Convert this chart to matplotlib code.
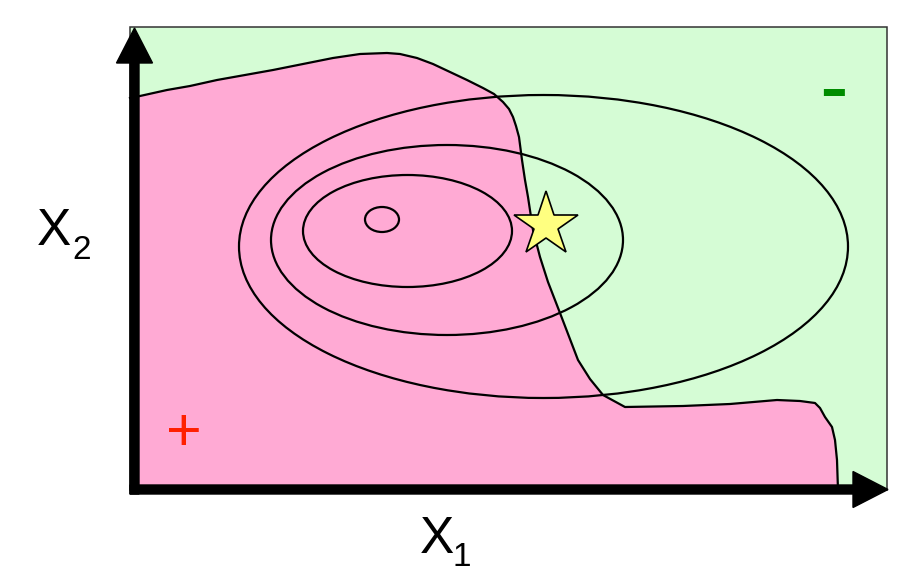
import matplotlib
matplotlib.use("Agg")
import matplotlib.pyplot as plt
from matplotlib.patches import Ellipse, Rectangle, Polygon, FancyArrow

# ---- data (data units: x = X1, y = X2) ----
box_w, box_h = 757, 463

# decision boundary (pink "+" region lies to the lower-left)
boundary_x = [0, 10, 37, 60, 87, 115, 143, 173, 203, 230, 257, 270, 287, 303, 320,
              337, 353, 364, 373, 379, 383, 386, 389, 392,
              395, 398, 403, 410, 418, 430, 448, 460, 473, 495, 553, 600, 647, 670,
              685, 690, 695, 702, 705, 707, 708]
boundary_y = [392, 394, 400, 404, 410, 415, 420, 426, 432, 436, 437, 436, 432, 426, 418,
              410, 402, 396, 388, 381, 373, 364, 353, 330,
              310, 293, 260, 233, 208, 177, 130, 111, 95, 83, 84, 86, 90, 89,
              87, 82, 73, 63, 50, 30, 0]

# contour ellipses: centre x, centre y, width, height
ell_cx = [252, 277.5, 317, 413.5]
ell_cy = [270.5, 259, 250, 243.5]
ell_w = [34, 209, 352, 609]
ell_h = [25, 112, 190, 303]

star_x, star_y = 416, 265.3

pink = "#ffaad4"
green = "#d5fcd5"

fig = plt.figure(figsize=(9.03, 5.77), dpi=100)
ax = fig.add_axes([0, 0, 1, 1])
ax.set_xlim(-130, 773)
ax.set_ylim(-87, 490)
ax.axis("off")

# background box
ax.add_patch(Rectangle((0, 0), box_w, box_h, facecolor=green, edgecolor="#333333",
                       lw=1.1, zorder=1))

# pink region
poly_pts = list(zip(boundary_x, boundary_y)) + [(0, 0)]
ax.add_patch(Polygon(poly_pts, closed=True, facecolor=pink, edgecolor="none", zorder=2))
ax.plot(boundary_x, boundary_y, color="black", lw=1.6, zorder=3,
        solid_joinstyle="round")

# ellipses
for cx, cy, w, h in zip(ell_cx, ell_cy, ell_w, ell_h):
    ax.add_patch(Ellipse((cx, cy), w, h, facecolor="none", edgecolor="black",
                         lw=1.6, zorder=4))

# star
ax.plot([star_x], [star_y], marker="*", markersize=48.5, markerfacecolor="#ffff80",
        markeredgecolor="black", markeredgewidth=1.2, zorder=5)

# axes arrows
ax.add_patch(FancyArrow(4.5, -4, 0, 466, width=9, head_width=36, head_length=35,
                        length_includes_head=True, color="black", zorder=6,
                        clip_on=False))
ax.add_patch(FancyArrow(0, 0.5, 758, 0, width=9, head_width=36, head_length=35,
                        length_includes_head=True, color="black", zorder=6,
                        clip_on=False))

font = "Liberation Sans"
# axis labels
ax.text(-93, 245, "X", fontsize=37, family=font, ha="left", va="baseline")
ax.text(-58, 231, "2", fontsize=24, family=font, ha="left", va="baseline")
ax.text(290, -63, "X", fontsize=37, family=font, ha="left", va="baseline")
ax.text(323, -76, "1", fontsize=24, family=font, ha="left", va="baseline")

# class labels
ax.text(54, 40, "+", fontsize=44, family=font, color="#ff2000", ha="center",
        va="baseline", zorder=7)
ax.text(703.5, 375.5, "-", fontsize=62, family=font, color="#008c00", ha="center",
        va="baseline", zorder=7)

fig.savefig("out.png", dpi=100)
